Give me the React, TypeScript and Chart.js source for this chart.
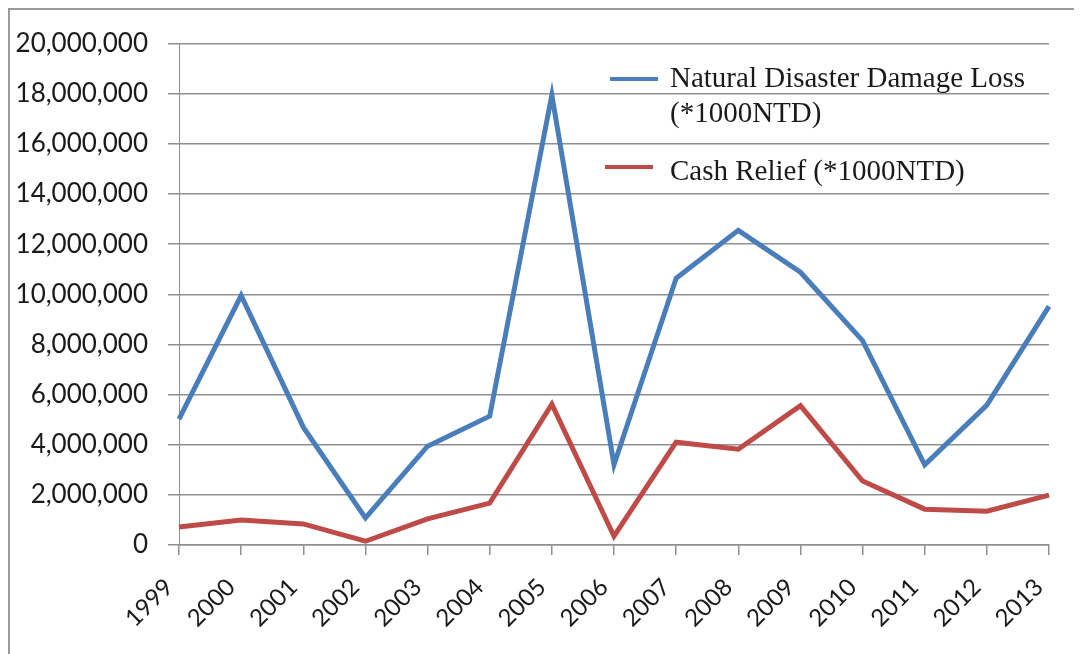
import React, { useEffect, useRef } from "react";
import { Chart, registerables } from "chart.js";

Chart.register(...registerables);

const years = ["1999", "2000", "2001", "2002", "2003", "2004", "2005", "2006", "2007", "2008", "2009", "2010", "2011", "2012", "2013"];
const damageLoss = [5020000, 9950000, 4700000, 1080000, 3940000, 5140000, 17950000, 3200000, 10640000, 12550000, 10880000, 8150000, 3200000, 5580000, 9520000];
const cashRelief = [720000, 1000000, 840000, 150000, 1040000, 1670000, 5620000, 350000, 4100000, 3820000, 5560000, 2550000, 1430000, 1350000, 1990000];
const seriesNames = ["Natural Disaster Damage Loss (*1000NTD)", "Cash Relief (*1000NTD)"];
const legendLines = [["Natural Disaster Damage Loss", "(*1000NTD)"], ["Cash Relief (*1000NTD)"]];
const seriesColors = ["#4A7EBB", "#BE4B48"];
const yMax = 20000000;
const yStep = 2000000;

const frameAndLegend = {
  id: "frameAndLegend",
  beforeDraw(chart: any) {
    const ctx = chart.ctx;
    ctx.save();
    ctx.fillStyle = "#ffffff";
    ctx.fillRect(0, 0, chart.width, chart.height);
    ctx.strokeStyle = "#9a9a9a";
    ctx.lineWidth = 2;
    ctx.beginPath();
    ctx.moveTo(1, chart.height);
    ctx.lineTo(1, 1);
    ctx.lineTo(chart.width, 1);
    ctx.stroke();
    ctx.restore();
  },
  afterDraw(chart: any) {
    const ctx = chart.ctx;
    ctx.save();
    ctx.font = "29px 'Liberation Serif', 'Times New Roman', serif";
    ctx.fillStyle = "#1a1a1a";
    ctx.textAlign = "left";
    ctx.textBaseline = "alphabetic";
    const items = [
      { lineX0: 602, lineX1: 650, lineY: 71, textX: 662, baselines: [79, 114] },
      { lineX0: 597, lineX1: 645, lineY: 159, textX: 662, baselines: [172] },
    ];
    items.forEach((it, i) => {
      const ds = chart.data.datasets[i];
      ctx.strokeStyle = ds.borderColor;
      ctx.lineWidth = 4;
      ctx.beginPath();
      ctx.moveTo(it.lineX0, it.lineY);
      ctx.lineTo(it.lineX1, it.lineY);
      ctx.stroke();
      legendLines[i].forEach((t, j) => {
        ctx.fillText(t, it.textX, it.baselines[j]);
      });
    });
    ctx.restore();
  },
};

export default function App() {
  const ref = useRef<HTMLCanvasElement | null>(null);
  useEffect(() => {
    if (!ref.current) return;
    const chart = new Chart(ref.current, {
      type: "line",
      data: {
        labels: years,
        datasets: [
          {
            label: seriesNames[0],
            data: damageLoss,
            borderColor: seriesColors[0],
            backgroundColor: seriesColors[0],
            borderWidth: 5,
            pointRadius: 0,
            tension: 0,
            borderJoinStyle: "miter",
          },
          {
            label: seriesNames[1],
            data: cashRelief,
            borderColor: seriesColors[1],
            backgroundColor: seriesColors[1],
            borderWidth: 5,
            pointRadius: 0,
            tension: 0,
            borderJoinStyle: "miter",
          },
        ],
      },
      options: {
        responsive: false,
        animation: false,
        devicePixelRatio: 1,
        layout: { padding: { top: 35, right: 33, left: 0, bottom: 0 } },
        plugins: {
          legend: { display: false },
          tooltip: { enabled: false },
          title: { display: false },
        },
        scales: {
          x: {
            offset: false,
            grid: {
              display: true,
              drawOnChartArea: false,
              drawTicks: true,
              tickLength: 10,
              color: "#8f8f8f",
              lineWidth: 1.5,
              offset: false,
            },
            border: { display: true, color: "#8f8f8f", width: 1.5 },
            ticks: {
              autoSkip: false,
              minRotation: 45,
              maxRotation: 45,
              padding: 18,
              labelOffset: -10,
              color: "#1a1a1a",
              font: { family: "Lato, 'Open Sans', sans-serif", size: 24 },
            },
            afterFit: (scale: any) => {
              scale.height = 109;
              scale.paddingLeft = 0;
              scale.paddingRight = 0;
            },
          },
          y: {
            min: 0,
            max: yMax,
            grid: {
              color: "#8f8f8f",
              lineWidth: 1.5,
              tickLength: 11,
            },
            border: { display: true, color: "#8f8f8f", width: 1 },
            ticks: {
              stepSize: yStep,
              padding: 20,
              color: "#1a1a1a",
              font: { family: "Lato, 'Open Sans', sans-serif", size: 26 },
              callback: (v: any) => Number(v).toLocaleString("en-US"),
            },
            afterFit: (scale: any) => {
              scale.width = 171;
            },
          },
        },
      },
      plugins: [frameAndLegend],
    });
    return () => chart.destroy();
  }, []);
  return <canvas ref={ref} width={1074} height={646} style={{ display: "block" }} />;
}
